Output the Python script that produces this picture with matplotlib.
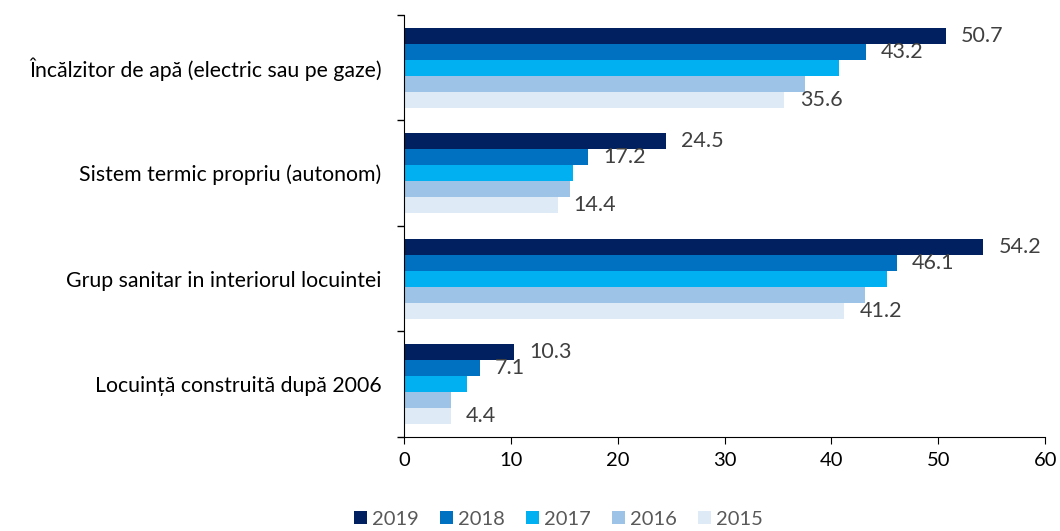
import numpy as np
import matplotlib.pyplot as plt

plt.rcParams['font.family'] = ['Lato', 'DejaVu Sans']

categorii = ['Încălzitor de apă (electric sau pe gaze)',
             'Sistem termic propriu (autonom)',
             'Grup sanitar in interiorul locuintei',
             'Locuință construită după 2006']
ani = ['2019', '2018', '2017', '2016', '2015']
v2019 = [50.7, 24.5, 54.2, 10.3]
v2018 = [43.2, 17.2, 46.1, 7.1]
v2017 = [40.7, 15.8, 45.2, 5.9]
v2016 = [37.5, 15.5, 43.1, 4.4]
v2015 = [35.6, 14.4, 41.2, 4.4]
culori = ['#002060', '#0070C0', '#00B0F0', '#9DC3E6', '#DEEBF7']
cu_eticheta = ['2019', '2018', '2015']

serii = [v2019, v2018, v2017, v2016, v2015]

fig = plt.figure(figsize=(10.6, 5.31), dpi=100)
ax = fig.add_axes([0.381, 0.177, 0.605, 0.795])

y = np.arange(len(categorii))
h = 0.152
for i, (an, vals, c) in enumerate(zip(ani, serii, culori)):
    pos = y - 2 * h + i * h
    bars = ax.barh(pos, vals, height=h, color=c, label=an)
    if an in cu_eticheta:
        ax.bar_label(bars, labels=['%.1f' % v for v in vals], padding=11,
                     fontsize=15.5, color='#404040')

ax.set_ylim(len(categorii) - 0.5, -0.5)
ax.set_xlim(0, 60)
ax.set_xticks(range(0, 61, 10))
ax.set_yticks(y)
ax.set_yticklabels(categorii, fontsize=15.3)
ax.set_yticks(np.arange(-0.5, len(categorii)), minor=True)
ax.tick_params(axis='y', which='major', length=0, pad=16)
ax.tick_params(axis='y', which='minor', length=5, width=1)
ax.tick_params(axis='x', length=5, labelsize=14.5, pad=6)
ax.spines['top'].set_visible(False)
ax.spines['right'].set_visible(False)

fig.legend(loc='lower center', ncol=5, bbox_to_anchor=(0.527, -0.028),
           frameon=False, fontsize=14.5, handlelength=0.65, handleheight=0.65,
           columnspacing=1.05, handletextpad=0.25, labelcolor='#595959')

fig.savefig('out.png', dpi=100)
